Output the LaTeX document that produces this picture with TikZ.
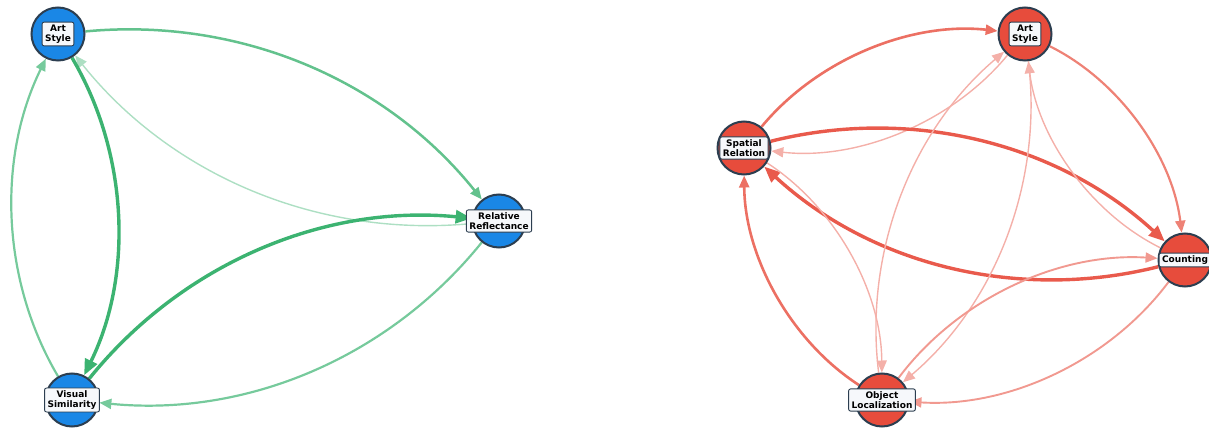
\documentclass[tikz,border=0pt]{standalone}
\usepackage{fontspec}
\setmainfont{DejaVu Sans}
\usetikzlibrary{arrows.meta,calc}
\definecolor{nblue}{HTML}{1A87E6}
\definecolor{nred}{HTML}{E74C3C}
\definecolor{nborder}{HTML}{2C3E50}
\definecolor{egreen}{HTML}{3CB371}
\definecolor{ered}{HTML}{E74C3C}
\definecolor{lblfill}{HTML}{F6F8FB}
\pgfdeclarelayer{edges}
\pgfsetlayers{edges,main}
\tikzset{
  circ/.style={circle, draw=nborder, line width=2pt, minimum size=53pt, inner sep=0pt},
  bluecirc/.style={circ, fill=nblue},
  redcirc/.style={circ, fill=nred},
  lbl/.style={draw=nborder, line width=0.9pt, fill=lblfill, rounded corners=2pt,
    align=center, font=\fontsize{9}{10.2}\selectfont\bfseries, inner xsep=3pt, inner ysep=2.5pt},
  tipS/.style={-{Triangle[length=12pt,width=10pt]}},
  tipL/.style={-{Triangle[length=16pt,width=13pt]}},
  gthick/.style={line width=3.4pt, tipL, color=egreen},
  gmed/.style={line width=2.5pt, tipS, color=egreen!80!white},
  gmid/.style={line width=2.2pt, tipS, color=egreen!70!white},
  gthin/.style={line width=1.4pt, tipS, color=egreen!42!white},
  rthick/.style={line width=3.4pt, tipL, color=ered!92!white},
  rmed/.style={line width=2.6pt, tipS, color=ered!80!white},
  rmid/.style={line width=2.2pt, tipS, color=ered!70!white},
  rlow/.style={line width=1.9pt, tipS, color=ered!57!white},
  rthin/.style={line width=1.4pt, tipS, color=ered!44!white},
}
\def\rr{0.54}
\newcommand\edgeArc[3]{%
  \path ($(#1)!0.5!(#2)!\rr!90:(#2)$) coordinate (ctl);
  \draw[#3] (#1) .. controls ($(#1)!0.6667!(ctl)$) and ($(#2)!0.6667!(ctl)$) .. (#2);
}
\begin{document}
\begin{tikzpicture}[x=1pt,y=-1pt]
\useasboundingbox (0,0) rectangle (1209,430);
% left graph
\node[bluecirc] (las) at (58,34) {};
\node[lbl] (lasl) at (las) {Art\\Style};
\node[bluecirc] (lrr) at (499,221) {};
\node[lbl] (lrrl) at (lrr) {Relative\\Reflectance};
\node[bluecirc] (lvs) at (72,400) {};
\node[lbl] (lvsl) at (lvs) {Visual\\Similarity};
% right graph
\node[redcirc] (rsr) at (744,148) {};
\node[lbl] (rsrl) at (rsr) {Spatial\\Relation};
\node[redcirc] (ras) at (1025,34) {};
\node[lbl] (rasl) at (ras) {Art\\Style};
\node[redcirc] (rc) at (1185,260) {};
\node[lbl] (rcl) at (rc) {Counting};
\node[redcirc] (rol) at (882,400) {};
\node[lbl] (roll) at (rol) {Object\\Localization};
\begin{pgfonlayer}{edges}
\edgeArc{las}{lrr}{gmed}
\edgeArc{lrr}{las}{gthin}
\edgeArc{las}{lvs}{gthick}
\edgeArc{lvs}{las}{gmid}
\edgeArc{lvs}{lrr}{gthick}
\edgeArc{lrr}{lvs}{gmid}
\edgeArc{rsr}{ras}{rmed}
\edgeArc{ras}{rsr}{rthin}
\edgeArc{rsr}{rc}{rthick}
\edgeArc{rc}{rsr}{rthick}
\edgeArc{ras}{rc}{rmid}
\edgeArc{rc}{ras}{rthin}
\edgeArc{rol}{rsr}{rmed}
\edgeArc{rsr}{rol}{rthin}
\edgeArc{rol}{ras}{rthin}
\edgeArc{ras}{rol}{rthin}
\edgeArc{rol}{rc}{rlow}
\edgeArc{rc}{rol}{rlow}
\end{pgfonlayer}
\end{tikzpicture}
\end{document}
